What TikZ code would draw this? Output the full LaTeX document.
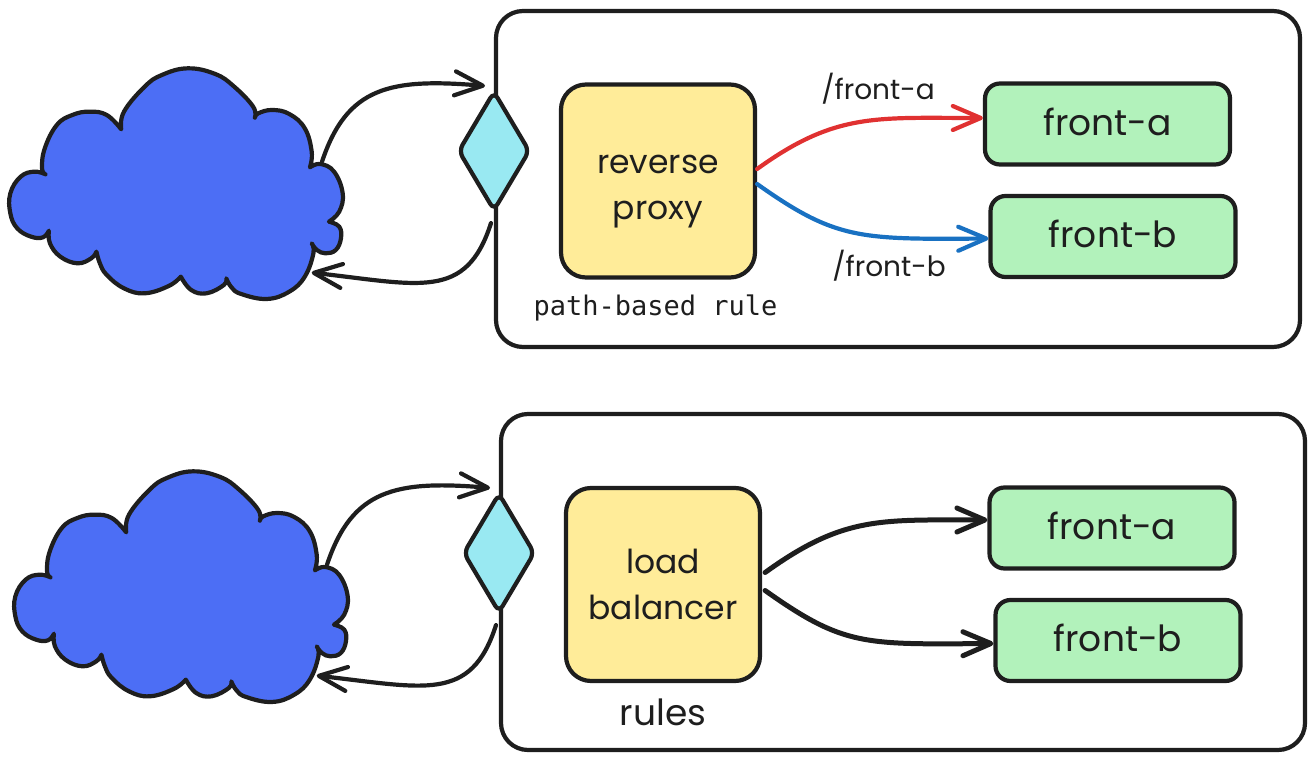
\documentclass[tikz,border=0pt]{standalone}
\usepackage{fontspec}
\usepackage{tikz}
\usetikzlibrary{arrows.meta,positioning,shapes.geometric}
\newfontfamily\handfont{Poppins}
\newfontfamily\rulefont{DejaVu Sans Mono}
\definecolor{ink}{HTML}{1E1E1E}
\definecolor{cloudblue}{HTML}{4C6EF5}
\definecolor{gatecyan}{HTML}{99E9F2}
\definecolor{boxyellow}{HTML}{FFEC99}
\definecolor{boxgreen}{HTML}{B2F2BB}
\definecolor{pathred}{HTML}{E03131}
\definecolor{pathblue}{HTML}{1971C2}
\tikzset{
	sketch/.style={draw=ink,line width=4.2pt,line join=round,text=ink},
	framebox/.style={sketch,rounded corners=27pt,minimum width=804pt,minimum height=336pt},
	gate/.style={sketch,diamond,fill=gatecyan,rounded corners=7pt,inner sep=0pt,minimum width=72pt,minimum height=120pt},
	midbox/.style={sketch,fill=boxyellow,rounded corners=25pt,minimum width=194pt,minimum height=193pt,align=center,font=\handfont\fontsize{33}{46}\selectfont},
	frontbox/.style={sketch,fill=boxgreen,rounded corners=15pt,minimum width=245pt,minimum height=81pt,text depth=5pt,font=\handfont\fontsize{36}{40}\selectfont},
	flow/.style={draw=ink,line width=4.2pt,line cap=round,line join=round,->},
	heavy/.style={flow,line width=5pt},
	pathtext/.style={text=ink,font=\handfont\fontsize{28}{32}\selectfont},
}
\newcommand{\cloudshape}[3]{
	\begin{scope}[shift={(#2,#3)}]
	\begin{scope}[x=0.3444pt,y=-0.3333pt,shift={(0,150)}]
	\draw[sketch,fill=cloudblue]
		plot[smooth,tension=.7] coordinates {(352,238) (360,185) (420,110) (470,75) (545,55) (625,72) (680,110) (735,170) (740,203)}
		-- plot[smooth,tension=.7] coordinates {(740,203) (750,190) (790,180) (840,192) (885,235) (905,305) (900,352)}
		-- plot[smooth,tension=.7] coordinates {(900,352) (930,342) (970,365) (995,430) (985,485) (955,515)}
		-- plot[smooth,tension=.7] coordinates {(955,515) (985,530) (990,565) (975,600) (945,610) (920,600) (905,580)}
		-- plot[smooth,tension=.7] coordinates {(905,580) (910,610) (885,680) (840,725) (775,747) (700,732) (672,712) (657,685)}
		-- plot[smooth,tension=.7] coordinates {(657,685) (650,705) (600,730) (555,720) (525,680)}
		-- plot[smooth,tension=.7] coordinates {(525,680) (490,708) (420,730) (360,715) (310,675) (290,640) (280,605)}
		-- plot[smooth,tension=.7] coordinates {(280,605) (265,625) (225,640) (175,620) (145,580) (142,542)}
		-- plot[smooth,tension=.7] coordinates {(142,542) (125,562) (90,560) (50,535) (30,490) (30,430) (60,380) (100,365) (132,373)}
		-- plot[smooth,tension=.7] coordinates {(132,373) (122,355) (130,295) (165,225) (210,195) (260,185) (310,195) (352,238)}
		-- cycle;
	\coordinate (#1 out) at (935,335);
	\coordinate (#1 in) at (905,668);
	\end{scope}
	\end{scope}
}
\begin{document}
\begin{tikzpicture}[x=1pt,y=-1pt,on grid,>={Straight Barb[length=28pt,width=24pt,round]}]
	\useasboundingbox (0,0) rectangle (1314,760);

	\node[framebox] (frameA) at (898,179) {};
	\node[gate]     (gateA)  at (494,151) {};
	\cloudshape{cloudA}{0}{0}
	\node[midbox]   (proxy)  at (658,181) {\rule{0pt}{40pt}reverse\\proxy};
	\node[frontbox] (frontA) [above right=57pt and 449.5pt of proxy] {front-a};
	\node[frontbox] (frontB) [below right=55.5pt and 455pt of proxy] {front-b};
	\node[pathtext] (pathA)  at (878,89)  {/front-a};
	\node[pathtext] (pathB)  at (889,266) {/front-b};
	\node[text=ink,font=\rulefont\fontsize{27}{32}\selectfont] (ruleA) [below=127pt of proxy,xshift=-2.5pt] {path-based rule};

	\node[framebox] (frameB) at (903,582) {};
	\node[gate]     (gateB)  at (499,553) {};
	\cloudshape{cloudB}{5}{403}
	\node[midbox]   (balancer) at (663,584.5) {load\\balancer};
	\node[frontbox] (frontC) [above right=56.5pt and 449pt of balancer] {front-a};
	\node[frontbox] (frontD) [below right=56pt and 455pt of balancer] {front-b};
	\node[text=ink,font=\handfont\fontsize{36}{40}\selectfont] (ruleB) [below=127.5pt of balancer] {rules};

	\draw[flow] (cloudA out) .. controls +(25,-75) and +(-95,-8) .. ([xshift=-9pt,yshift=3pt]gateA.north);
	\draw[flow] ([xshift=-3pt,yshift=-10pt]gateA.south) .. controls +(-25,78) and +(108,12) .. (cloudA in);
	\draw[flow,draw=pathred] ([yshift=12pt]proxy.east) .. controls +(79,-57) and +(-107,0) .. ([yshift=6pt]frontA.west);
	\draw[flow,draw=pathblue] ([yshift=-3pt]proxy.east) .. controls +(79,56) and +(-129,1) .. ([yshift=-2pt]frontB.west);

	\draw[flow] (cloudB out) .. controls +(25,-75) and +(-95,-8) .. ([xshift=-9pt,yshift=3pt]gateB.north);
	\draw[flow] ([xshift=-3pt,yshift=-10pt]gateB.south) .. controls +(-25,78) and +(108,12) .. (cloudB in);
	\draw[heavy] ([xshift=3pt,yshift=12pt]balancer.east) .. controls +(79,-57) and +(-107,0) .. ([yshift=8pt]frontC.west);
	\draw[heavy] ([xshift=3pt,yshift=-6pt]balancer.east) .. controls +(79,56) and +(-130,1) .. ([yshift=-3pt]frontD.west);
\end{tikzpicture}
\end{document}
